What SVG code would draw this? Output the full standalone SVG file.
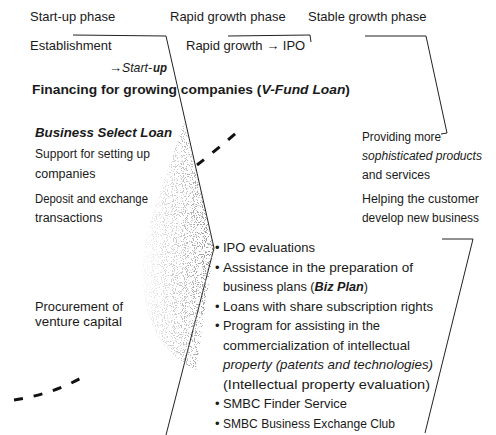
<svg xmlns="http://www.w3.org/2000/svg" width="496" height="435" viewBox="0 0 496 435">
<style>
text{font-family:"Liberation Sans",Arial,sans-serif;fill:#1a1a1a;font-size:12.5px}
.h{font-size:13px}
.b{font-size:13px}
.ln{fill:none;stroke:#222;stroke-width:1}
.dash{fill:none;stroke:#111;stroke-width:3;stroke-dasharray:9 11;stroke-linecap:butt}
.bi{font-weight:bold;font-style:italic}
.it{font-style:italic}
</style>
<defs>
<linearGradient id="g" x1="140" y1="0" x2="215" y2="0" gradientUnits="userSpaceOnUse">
<stop offset="0" stop-color="#000" stop-opacity="0.05"/>
<stop offset="0.5" stop-color="#000" stop-opacity="0.45"/>
<stop offset="1" stop-color="#000" stop-opacity="0.95"/>
</linearGradient>
<filter id="stip" x="0" y="0" width="1" height="1" filterUnits="objectBoundingBox">
<feTurbulence type="fractalNoise" baseFrequency="0.9" numOctaves="1" seed="4" result="n"/>
<feColorMatrix in="n" type="matrix" values="0 0 0 0 0.25  0 0 0 0 0.25  0 0 0 0 0.25  16 0 0 0 -8.8" result="d"/>
<feComposite in="d" in2="SourceGraphic" operator="in"/>
</filter>
</defs>

<g id="headers">
<text class="h" x="30" y="21">Start-up phase</text>
<text class="h" x="170" y="21">Rapid growth phase</text>
<text class="h" x="308" y="21">Stable growth phase</text>
</g>

<g id="connectors">
<path class="ln" d="M73,35 L166,36 L214,248 L166,435"/>
<path class="ln" d="M228,36 L310,35 L311,42"/>
<path class="ln" d="M365,36 L426,36 L447,133 L441,134"/>
<path class="ln" d="M442,239 L473,239 L425,433"/>
<path class="dash" d="M14,400 C40,396 65,388 86,375"/>
<path class="dash" d="M197,165 C210,155 228,140 242,128"/>
</g>

<g id="shading">
<path d="M184,122 L214,248 L196,370 C178,362 160,345 150,320 C140,290 140,255 150,225 C160,190 175,150 184,122 Z" fill="url(#g)" filter="url(#stip)"/>
</g>

<g id="startup">
<text class="h" x="30" y="50">Establishment</text>
<text class="h" x="109" y="72">→</text>
<text class="h it" x="122" y="72" textLength="30" lengthAdjust="spacingAndGlyphs">Start-</text>
<text class="h bi" x="153" y="72" textLength="14" lengthAdjust="spacingAndGlyphs">up</text>
</g>

<g id="rapid">
<text class="h" x="186" y="50">Rapid growth → IPO</text>
</g>

<g id="financing">
<text class="h" x="32" y="94" font-weight="bold" textLength="318" lengthAdjust="spacingAndGlyphs">Financing for growing companies (<tspan font-style="italic">V-Fund Loan</tspan>)</text>
</g>

<g id="business">
<text class="bi" font-size="13" x="35" y="137" textLength="137" lengthAdjust="spacingAndGlyphs">Business Select Loan</text>
<text x="35" y="158" textLength="115" lengthAdjust="spacingAndGlyphs">Support for setting up</text>
<text x="35" y="178">companies</text>
<text x="35" y="203" textLength="113" lengthAdjust="spacingAndGlyphs">Deposit and exchange</text>
<text x="35" y="222">transactions</text>
<text x="35" y="311" textLength="88" lengthAdjust="spacingAndGlyphs">Procurement of</text>
<text x="35" y="326" textLength="87" lengthAdjust="spacingAndGlyphs">venture capital</text>
</g>

<g id="stable">
<text x="362" y="141" textLength="79" lengthAdjust="spacingAndGlyphs">Providing more</text>
<text x="362" y="160" class="it" textLength="120" lengthAdjust="spacingAndGlyphs">sophisticated products</text>
<text x="362" y="179" textLength="68" lengthAdjust="spacingAndGlyphs">and services</text>
<text x="362" y="203" textLength="117" lengthAdjust="spacingAndGlyphs">Helping the customer</text>
<text x="362" y="222" textLength="117" lengthAdjust="spacingAndGlyphs">develop new business</text>
</g>

<g id="services">
<text class="b" x="215" y="252">•</text>
<text class="b" x="223" y="252" textLength="92" lengthAdjust="spacingAndGlyphs">IPO evaluations</text>
<text class="b" x="215" y="271.5">•</text>
<text class="b" x="223" y="271.5" textLength="190" lengthAdjust="spacingAndGlyphs">Assistance in the preparation of</text>
<text class="b" x="223" y="291" textLength="145" lengthAdjust="spacingAndGlyphs">business plans (<tspan class="bi">Biz Plan</tspan>)</text>
<text class="b" x="215" y="310.5">•</text>
<text class="b" x="223" y="310.5" textLength="210" lengthAdjust="spacingAndGlyphs">Loans with share subscription rights</text>
<text class="b" x="215" y="330">•</text>
<text class="b" x="223" y="330" textLength="157" lengthAdjust="spacingAndGlyphs">Program for assisting in the</text>
<text class="b" x="223" y="349.5" textLength="187" lengthAdjust="spacingAndGlyphs">commercialization of intellectual</text>
<text class="b it" x="223" y="369" textLength="210" lengthAdjust="spacingAndGlyphs">property (patents and technologies)</text>
<text class="b" x="223" y="388.5" textLength="207" lengthAdjust="spacingAndGlyphs">(Intellectual property evaluation)</text>
<text class="b" x="215" y="408">•</text>
<text class="b" x="223" y="408" textLength="124" lengthAdjust="spacingAndGlyphs">SMBC Finder Service</text>
<text class="b" x="215" y="427.5">•</text>
<text class="b" x="223" y="427.5" textLength="172" lengthAdjust="spacingAndGlyphs">SMBC Business Exchange Club</text>
</g>
</svg>
